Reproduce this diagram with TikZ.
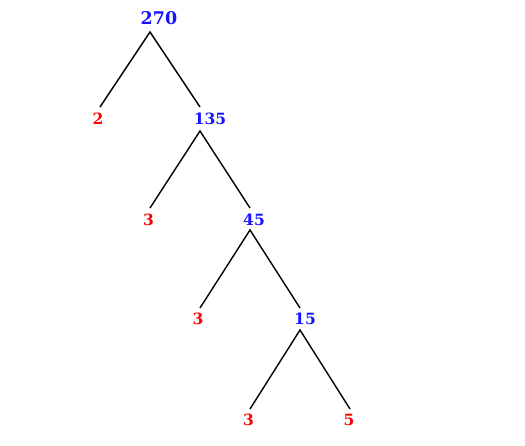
\documentclass[tikz,border=0pt]{standalone}
\usepackage{fontspec}
\setmainfont{DejaVu Serif}
\usepackage{tikz}
\definecolor{compblue}{RGB}{20,20,255}
\definecolor{primered}{RGB}{255,0,0}
\tikzset{
	comp/.style={inner sep=0pt, text=compblue, font=\bfseries\fontsize{15.5}{15.5}\selectfont},
	prime/.style={inner sep=0pt, text=primered, font=\bfseries\fontsize{15.5}{15.5}\selectfont},
	branch/.style={line width=1.4pt, black}
}

\begin{document}
\begin{tikzpicture}[x=1pt,y=-1pt]
	\useasboundingbox (0,0) rectangle (525,445);
	% root and its two factors
	\coordinate [label={[comp, font=\bfseries\fontsize{17.5}{17.5}\selectfont, label distance=7pt, xshift=9pt]above:270}] (t270) at (150,32);
	\coordinate [label={[prime, label distance=6pt, xshift=-2pt]below:2}] (t2) at (100,107);
	\coordinate [label={[comp, label distance=6pt, xshift=10pt]below:135}] (t135) at (200,107);
	\coordinate (b135) at (200,131);
	\coordinate [label={[prime, label distance=6pt, xshift=-1.5pt]below:3}] (t3a) at (150,208);
	\coordinate [label={[comp, label distance=6pt, xshift=4pt]below:45}] (t45) at (250,208);
	\coordinate (b45) at (250,230);
	\coordinate [label={[prime, label distance=5pt, xshift=-2pt]below:3}] (t3b) at (200,308);
	\coordinate [label={[comp, label distance=5pt, xshift=5pt]below:15}] (t15) at (300,308);
	\coordinate (b15) at (300,330);
	\coordinate [label={[prime, label distance=5pt, xshift=-1.5pt]below:3}] (t3c) at (250,409);
	\coordinate [label={[prime, label distance=5pt, xshift=-1pt]below:5}] (t5) at (350,409);

	\draw[branch] (t2) -- (t270) -- (t135);
	\draw[branch] (t3a) -- (b135) -- (t45);
	\draw[branch] (t3b) -- (b45) -- (t15);
	\draw[branch] (t3c) -- (b15) -- (t5);
\end{tikzpicture}
\end{document}
